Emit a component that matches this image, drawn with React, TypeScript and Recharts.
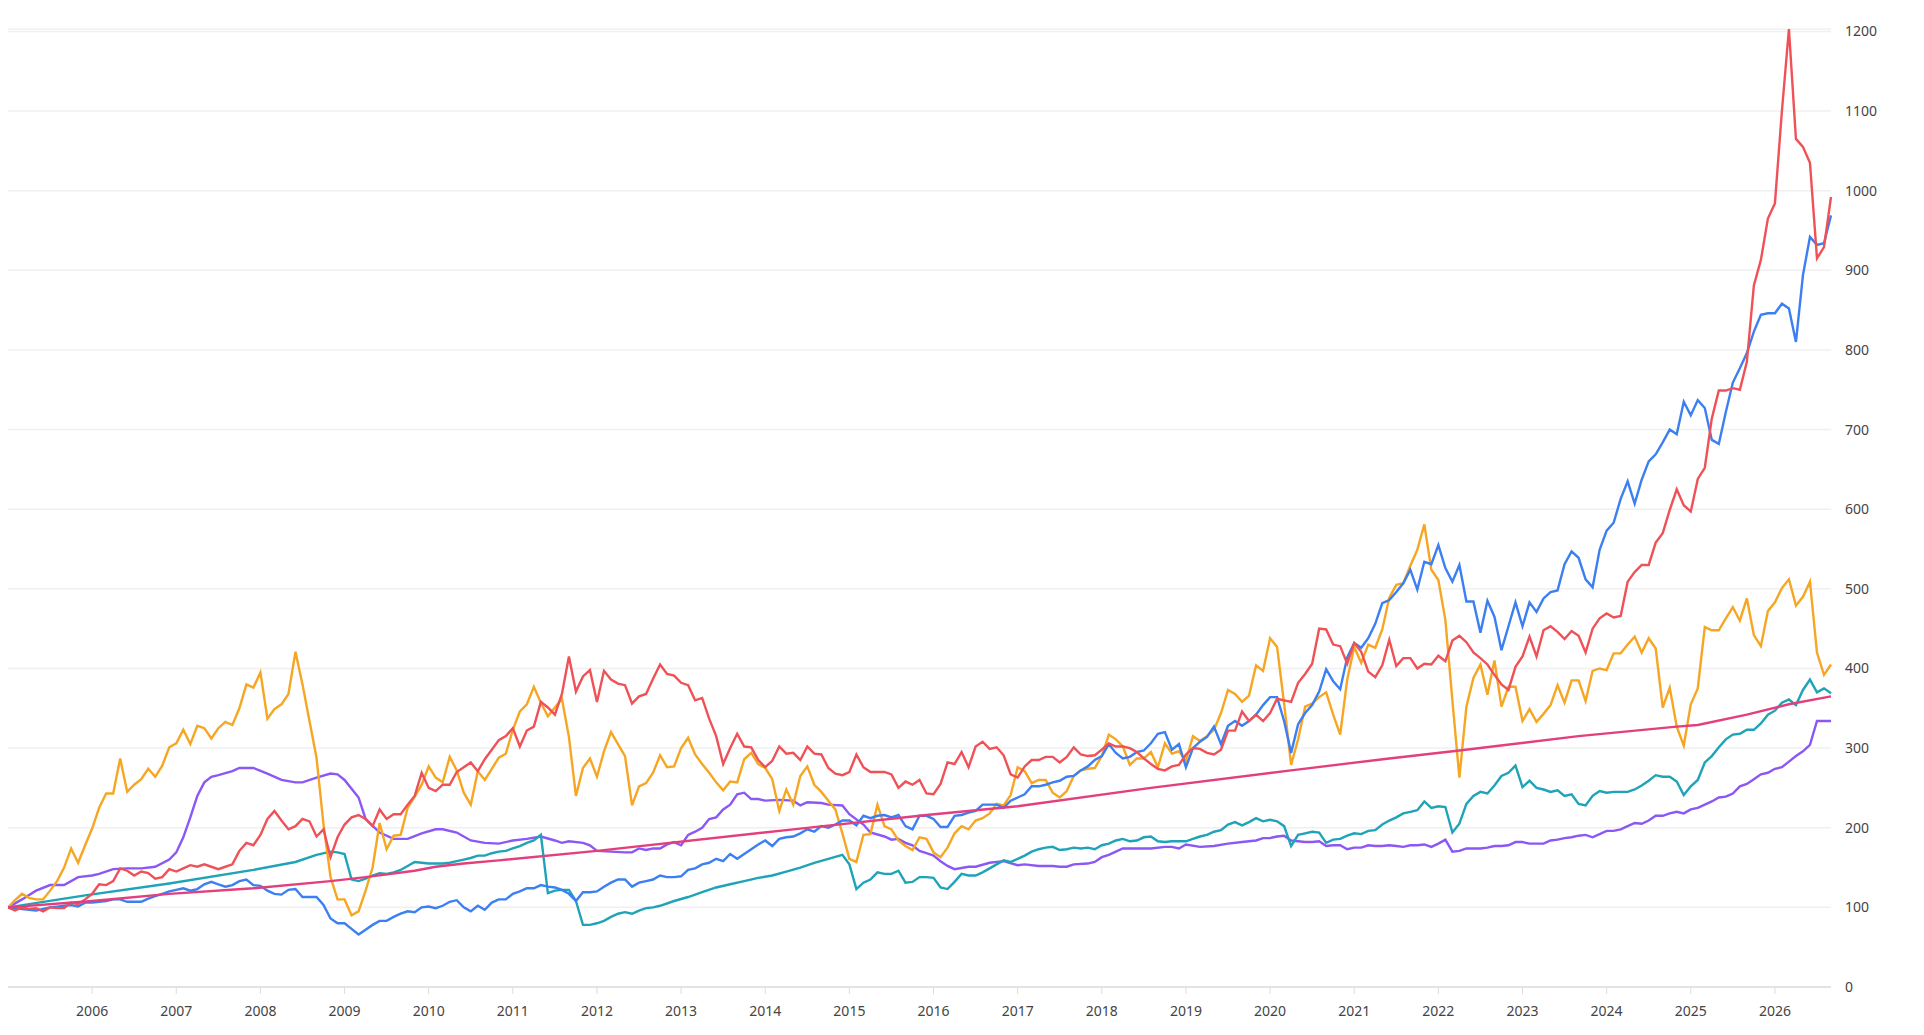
import { LineChart, Line, XAxis, YAxis, CartesianGrid } from "recharts";

// monthly values, index 0 = Jan 2005
const START_YEAR = 2005;
const _ = null;

const red = [
  100, 96, 100, 98, 99, 95, 100, 99, 99, 106, 104, 110,
  117, 129, 128, 133, 149, 146, 140, 145, 143, 136, 138, 148,
  145, 149, 153, 151, 154, 151, 148, 151, 154, 171, 181, 178,
  191, 211, 221, 209, 198, 202, 211, 208, 189, 198, 163, 188,
  204, 213, 216, 211, 202, 223, 211, 217, 217, 229, 240, 269,
  250, 246, 254, 254, 270, 276, 282, 271, 286, 298, 310, 315,
  325, 302, 322, 327, 358, 351, 342, 368, 415, 371, 390, 398,
  358, 397, 386, 381, 379, 356, 365, 368, 387, 405, 393, 391,
  382, 379, 360, 363, 337, 315, 280, 300, 318, 302, 301, 285,
  276, 284, 302, 293, 294, 285, 302, 293, 292, 275, 268, 266,
  270, 292, 276, 270, 270, 270, 267, 250, 258, 254, 260, 243,
  242, 255, 282, 280, 295, 276, 302, 308, 299, 301, 291, 267,
  263, 277, 285, 285, 289, 289, 282, 289, 301, 292, 290, 291,
  298, 306, 302, 302, 300, 295, 287, 280, 274, 272, 277, 279,
  292, 300, 299, 294, 292, 298, 322, 322, 346, 334, 342, 334,
  344, 362, 360, 358, 382, 393, 406, 450, 449, 430, 428, 406,
  432, 421, 396, 389, 404, 436, 403, 413, 413, 400, 406, 405,
  416, 409, 435, 441, 433, 420, 413, 405, 392, 380, 373, 402,
  415, 440, 415, 448, 453, 446, 437, 447, 441, 420, 450, 463,
  469, 464, 466, 509, 521, 530, 530, 558, 570, 599, 625, 605,
  597, 638, 652, 714, 749, 749, 752, 750, 785, 881, 913, 965,
  984, 1100, 1203, 1065, 1055, 1035, 915, 929, 992,
];

const blue = [
  100, 99, 98, 97, 96, 98, 100, 101, 102, 103, 101, 106,
  106, 107, 108, 110, 110, 107, 107, 107, 111, 114, 117, 120,
  122, 124, 121, 123, 129, 132, 129, 126, 128, 133, 135, 128,
  127, 121, 117, 116, 122, 123, 113, 113, 113, 103, 86, 80,
  80, 73, 66, 72, 78, 83, 83, 88, 92, 95, 94, 100,
  101, 99, 102, 107, 109, 100, 95, 102, 97, 106, 110, 110,
  117, 120, 124, 124, 128, 126, 125, 122, 117, 108, 119, 119,
  120, 126, 131, 135, 135, 126, 131, 133, 135, 140, 138, 138,
  139, 147, 149, 154, 156, 161, 158, 167, 161, 167, 173, 179,
  184, 177, 186, 188, 189, 193, 198, 195, 202, 200, 204, 209,
  209, 203, 215, 212, 215, 216, 213, 216, 202, 198, 215, 215,
  211, 201, 201, 215, 216, 219, 221, 229, 229, 229, 225, 234,
  238, 242, 252, 252, 254, 257, 259, 264, 265, 272, 277, 285,
  290, 305, 294, 287, 289, 295, 297, 306, 318, 320, 298, 305,
  276, 300, 308, 314, 327, 305, 328, 334, 328, 334, 342, 354,
  364, 364, 334, 294, 330, 344, 354, 371, 399, 384, 374, 414,
  432, 426, 438, 456, 482, 486, 496, 507, 524, 499, 534, 531,
  555, 526, 509, 530, 484, 484, 445, 485, 465, 423, 453, 483,
  453, 483, 471, 488, 496, 498, 531, 547, 539, 512, 502, 549,
  573, 583, 613, 635, 607, 637, 660, 669, 684, 700, 694, 735,
  718, 737, 727, 687, 682, 722, 759, 777, 796, 823, 844, 846,
  846, 858, 852, 810, 894, 942, 932, 934, 969,
];

const orange = [
  100, 109, 117, 112, 110, 110, 121, 133, 150, 174, 156, 178,
  199, 225, 243, 243, 287, 245, 254, 261, 274, 264, 278, 301,
  306, 323, 305, 328, 325, 312, 325, 333, 329, 350, 380, 376,
  395, 337, 349, 355, 368, 421, 380, 334, 288, 204, 138, 110,
  110, 90, 95, 121, 150, 206, 173, 190, 191, 225, 239, 254,
  277, 263, 257, 289, 272, 244, 229, 271, 260, 274, 288, 293,
  323, 346, 355, 377, 357, 340, 351, 362, 314, 240, 275, 287,
  264, 296, 320, 305, 290, 228, 252, 256, 269, 291, 276, 277,
  300, 313, 292, 280, 269, 257, 247, 258, 257, 286, 294, 280,
  275, 261, 221, 248, 229, 265, 277, 254, 245, 234, 223, 193,
  161, 157, 191, 192, 229, 202, 198, 184, 177, 172, 188, 186,
  169, 163, 175, 193, 202, 198, 209, 212, 218, 230, 228, 241,
  276, 271, 256, 260, 260, 244, 238, 246, 265, 272, 274, 275,
  290, 317, 311, 302, 279, 287, 287, 295, 276, 306, 293, 296,
  284, 315, 309, 315, 323, 344, 373, 368, 358, 366, 404, 397,
  438, 427, 356, 279, 311, 352, 356, 364, 370, 342, 317, 386,
  427, 407, 430, 426, 449, 489, 505, 507, 529, 549, 581, 524,
  511, 461, 360, 263, 352, 388, 405, 367, 410, 352, 377, 377,
  334, 349, 333, 343, 354, 379, 357, 385, 385, 359, 397, 400,
  398, 419, 419, 430, 440, 420, 438, 425, 351, 376, 327, 303,
  355, 375, 452, 448, 448, 463, 477, 460, 488, 442, 428, 472,
  483, 501, 512, 479, 490, 509, 420, 392, 405,
];

const teal = [
  100, _, _, _, _, _, _, _, _, _, _, 115,
  _, _, _, _, _, _, _, _, _, _, _, 130,
  _, _, _, _, _, _, _, _, _, _, _, 147,
  _, _, _, _, _, 157, _, _, 166, _, 170, 169,
  167, 135, 133, 136, 140, 143, 142, 144, 147, 152, 157, 156,
  155, 155, 155, 156, 158, 160, 162, 165, 165, 168, 170, 171,
  174, 177, 181, 184, 191, 118, 121, 122, 122, 108, 78, 78,
  80, 83, 88, 92, 94, 92, 96, 99, 100, 102, _, 108,
  _, 113, _, 119, _, 125, _, 129, _, 133, _, 137,
  _, 140, _, 145, _, 150, _, 156, _, 161, _, 166,
  154, 123, 131, 135, 144, 142, 142, 146, 131, 132, 138, 138,
  137, 125, 123, 132, 142, 140, 140, 144, 149, 154, 159, 157,
  161, 165, 170, 173, 175, 176, 172, 173, 175, 174, 175, 173,
  178, 180, 184, 186, 183, 184, 188, 189, 183, 182, 183, 183,
  183, 186, 189, 191, 195, 197, 204, 207, 203, 207, 212, 208,
  210, 208, 202, 177, 191, 193, 195, 194, 181, 185, 186, 190,
  193, 192, 196, 197, 204, 209, 213, 218, 220, 222, 233, 225,
  227, 226, 194, 205, 230, 240, 245, 243, 253, 265, 269, 278,
  251, 259, 250, 248, 245, 247, 240, 242, 230, 228, 240, 246,
  244, 245, 245, 245, 248, 253, 259, 266, 264, 264, 258, 241,
  252, 260, 282, 290, 301, 311, 317, 318, 323, 323, 331, 342,
  347, 357, 361, 354, 373, 386, 370, 375, 369,
];

const purple = [
  100, _, 110, _, 121, _, 128, _, 128, _, 138, _,
  140, 142, _, 148, _, 149, _, 149, _, 151, _, 160,
  169, 188, 213, 240, 257, 264, 266, _, 271, 275, _, 275,
  _, 268, _, 260, _, 257, 257, _, 263, _, 268, 267,
  260, _, 238, 211, _, 194, _, 186, _, 186, _, 193,
  _, 198, 198, _, 194, _, 184, _, 181, _, 180, _,
  184, _, 186, _, 189, _, 184, 181, 183, _, 181, 178,
  171, _, 170, _, 169, 169, 174, 172, 174, 174, 179, 182,
  178, 191, 195, 200, 211, 213, 223, 229, 242, 244, 236, 236,
  234, _, 235, _, 234, 228, 232, _, 231, 229, _, 228,
  217, _, 204, 194, _, 189, 185, 186, 181, 178, 171, 168,
  165, 158, 152, 148, _, 151, 151, _, 156, _, 158, _,
  153, 154, _, 152, _, 152, 151, 151, 154, _, 155, 157,
  163, 166, 170, 174, _, 174, _, 174, _, 176, 176, 174,
  179, _, 176, _, 177, _, 180, _, 182, _, 184, 187,
  187, 189, 190, 184, 183, 182, 182, 183, 177, 178, 178, 173,
  175, 175, 178, 177, 177, 178, 177, 176, 178, 178, 179, 176,
  180, 185, 170, 171, 174, 174, 174, 175, 177, 177, 178, 182,
  182, 180, 180, 180, 184, 185, 187, 188, 190, 191, 188, 192,
  196, 196, 198, 202, 206, 205, 209, 215, 215, 218, 220, 218,
  223, 225, 229, 233, 238, 239, 243, 252, 255, 261, 267, 269,
  274, 276, 283, 290, 296, 304, 334, 334, 334,
];

// [month index, value]
const pinkPoints: [number, number][] = [
  [0, 100], [12, 108], [23, 117], [35, 124], [46, 133], [51, 138],
  [58, 146], [61, 151], [65, 155], [70, 159], [84, 171], [112, 198],
  [131, 216], [144, 227], [163, 250], [183, 272], [197, 287], [207, 297],
  [224, 315], [238, 327], [241, 329], [248, 342], [254, 355], [260, 365],
];

const yearTicks = [
  2006, 2007, 2008, 2009, 2010, 2011, 2012, 2013, 2014, 2015, 2016,
  2017, 2018, 2019, 2020, 2021, 2022, 2023, 2024, 2025, 2026,
];
const valueTicks = [0, 100, 200, 300, 400, 500, 600, 700, 800, 900, 1000, 1100, 1200];

const pinkByMonth = new Map(pinkPoints);
const rows = red.map((v, m) => ({
  m,
  red: v,
  blue: blue[m],
  orange: orange[m],
  teal: teal[m],
  purple: purple[m],
  pink: pinkByMonth.get(m) ?? null,
}));

const tickStyle = { fill: "#444", fontSize: 14 };

export default function App() {
  return (
    <div style={{ width: 1908, height: 1019, fontFamily: "'Noto Sans', sans-serif" }}>
      <LineChart
        width={1908}
        height={1019}
        data={rows}
        margin={{ top: 21, right: 25, left: 0, bottom: 0 }}
      >
        <CartesianGrid vertical={false} stroke="#f0f0f0" strokeWidth={1.5} />
        <XAxis
          type="number"
          dataKey="m"
          domain={[0, red.length - 1]}
          ticks={yearTicks.map((y) => (y - START_YEAR) * 12)}
          tickFormatter={(m) => String(START_YEAR + m / 12)}
          axisLine={{ stroke: "#e3e3e3", strokeWidth: 2 }}
          tickLine={{ stroke: "#dcdcdc" }}
          tickSize={7}
          tickMargin={12}
          tick={tickStyle}
          height={40}
        />
        <YAxis
          orientation="right"
          domain={[0, 1200]}
          ticks={valueTicks}
          axisLine={false}
          tickLine={false}
          tickMargin={8}
          tick={tickStyle}
          width={60}
        />
        <Line dataKey="purple" stroke="#8b57f5" strokeWidth={2.4} dot={false} connectNulls isAnimationActive={false} />
        <Line dataKey="teal" stroke="#1ea3b8" strokeWidth={2.4} dot={false} connectNulls isAnimationActive={false} />
        <Line dataKey="orange" stroke="#f6a623" strokeWidth={2.4} dot={false} isAnimationActive={false} />
        <Line dataKey="blue" stroke="#3b7ff2" strokeWidth={2.4} dot={false} isAnimationActive={false} />
        <Line dataKey="red" stroke="#ef5157" strokeWidth={2.4} dot={false} isAnimationActive={false} />
        <Line dataKey="pink" stroke="#e33f7d" strokeWidth={2.4} dot={false} connectNulls isAnimationActive={false} />
      </LineChart>
    </div>
  );
}
